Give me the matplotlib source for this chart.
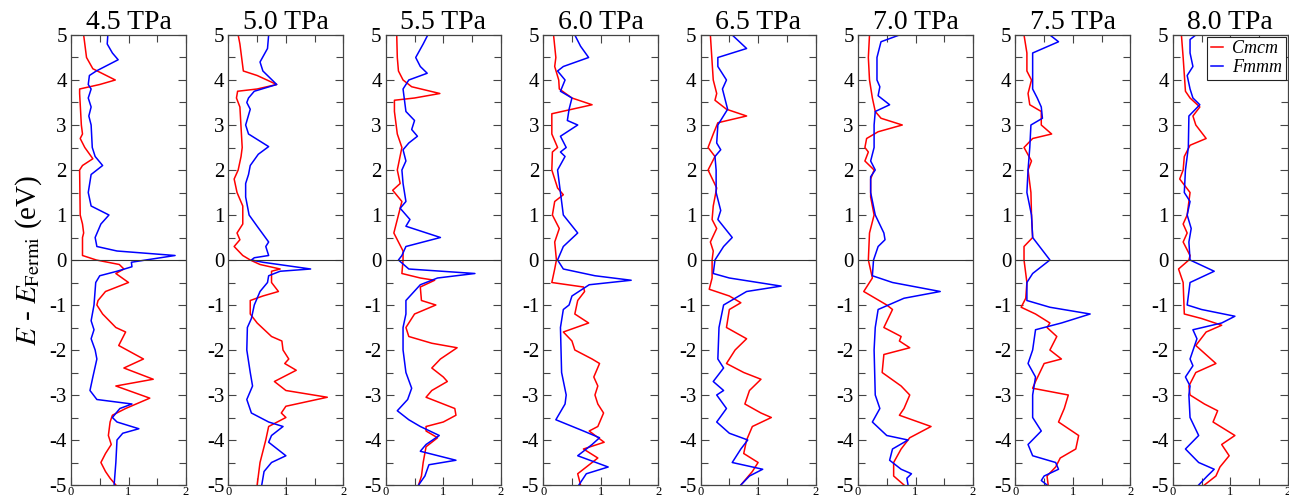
import matplotlib
matplotlib.use("Agg")
import matplotlib.pyplot as plt
from matplotlib.ticker import MultipleLocator, FormatStrFormatter

plt.rcParams['font.family'] = ['Liberation Serif', 'DejaVu Serif']
plt.rcParams['mathtext.fontset'] = 'stix'
plt.rcParams['axes.unicode_minus'] = False

pressures = ["4.5 TPa", "5.0 TPa", "5.5 TPa", "6.0 TPa", "6.5 TPa", "7.0 TPa", "7.5 TPa", "8.0 TPa"]
phases = ["Cmcm", "Fmmm"]

# DOS: energies (eV) and DOS values, per pressure
cmcm_45_e = [5, 4.5, 4.25, 4.0, 3.9, 3.8, 3.7, 3.0, 2.8, 2.7, 2.5, 2.25, 2.1, 2.0, 1.0, 0.8, 0.6, 0.5, 0.1, 0.0, -0.1, -0.2, -0.3, -0.5, -0.7, -0.9, -1.0, -1.2, -1.5, -1.6, -1.9, -2.2, -2.4, -2.65, -2.8, -3.07, -3.3, -3.45, -3.6, -3.9, -4.1, -4.3, -4.5, -4.7, -4.85, -5]
cmcm_45_d = [0.22, 0.27, 0.38, 0.77, 0.5, 0.15, 0.15, 0.18, 0.2, 0.16, 0.24, 0.38, 0.2, 0.15, 0.16, 0.2, 0.22, 0.2, 0.2, 0.44, 0.84, 0.92, 0.78, 1.0, 0.6, 0.47, 0.45, 0.55, 0.78, 0.95, 0.83, 1.26, 0.92, 1.43, 0.78, 1.37, 0.95, 0.72, 0.68, 0.65, 0.7, 0.6, 0.52, 0.6, 0.68, 0.78]
fmmm_45_e = [5, 4.8, 4.6, 4.45, 4.2, 4.1, 3.9, 3.8, 3.6, 3.4, 3.2, 3.0, 2.5, 2.3, 2.1, 1.9, 1.5, 1.2, 1.0, 0.8, 0.5, 0.3, 0.2, 0.1, 0.0, -0.05, -0.15, -0.25, -0.35, -0.5, -1.0, -1.35, -1.55, -1.75, -2.0, -2.2, -2.6, -2.9, -3.1, -3.2, -3.3, -3.5, -3.6, -3.75, -3.85, -4.0, -4.5, -5]
fmmm_45_d = [0.64, 0.63, 0.72, 0.82, 0.44, 0.32, 0.3, 0.35, 0.3, 0.35, 0.31, 0.35, 0.37, 0.42, 0.55, 0.35, 0.3, 0.35, 0.66, 0.52, 0.42, 0.45, 0.8, 1.81, 1.3, 1.05, 1.06, 0.8, 0.5, 0.43, 0.4, 0.35, 0.4, 0.35, 0.42, 0.45, 0.38, 0.33, 0.45, 1.06, 0.85, 0.72, 0.8, 1.18, 0.9, 0.8, 0.78, 0.75]

cmcm_50_e = [5, 4.8, 4.2, 4.1, 3.9, 3.8, 3.75, 3.6, 3.4, 2.5, 2.3, 2.0, 1.8, 1.5, 1.2, 0.8, 0.6, 0.45, 0.3, 0.1, 0.0, -0.1, -0.2, -0.25, -0.35, -0.5, -0.7, -0.8, -0.9, -1.2, -1.4, -1.7, -1.8, -2.0, -2.2, -2.3, -2.45, -2.7, -2.9, -3.05, -3.25, -3.4, -3.5, -3.7, -4.0, -4.5, -5]
cmcm_50_d = [0.17, 0.2, 0.26, 0.5, 0.84, 0.5, 0.16, 0.14, 0.2, 0.24, 0.22, 0.17, 0.1, 0.15, 0.25, 0.25, 0.15, 0.2, 0.1, 0.25, 0.38, 0.55, 0.9, 0.75, 0.75, 0.75, 0.87, 0.6, 0.38, 0.38, 0.5, 0.75, 0.93, 0.95, 1.05, 0.98, 1.18, 0.8, 1.0, 1.72, 1.0, 0.92, 1.0, 0.7, 0.65, 0.55, 0.5]
fmmm_50_e = [5, 4.7, 4.4, 4.2, 3.9, 3.75, 3.6, 3.5, 3.35, 3.0, 2.8, 2.6, 2.52, 2.35, 2.1, 1.9, 1.7, 1.4, 1.0, 0.75, 0.4, 0.3, 0.1, 0.05, 0.0, -0.05, -0.2, -0.25, -0.35, -0.5, -0.7, -1.0, -1.3, -1.5, -2.0, -2.5, -2.8, -3.1, -3.4, -3.6, -3.7, -3.9, -4.05, -4.35, -4.5, -4.7, -5]
fmmm_50_d = [0.7, 0.68, 0.55, 0.6, 0.84, 0.45, 0.35, 0.32, 0.38, 0.3, 0.35, 0.6, 0.7, 0.52, 0.38, 0.35, 0.3, 0.3, 0.36, 0.5, 0.7, 0.65, 0.7, 0.45, 0.4, 0.6, 1.43, 0.9, 0.7, 0.68, 0.55, 0.45, 0.4, 0.33, 0.32, 0.38, 0.42, 0.32, 0.4, 0.7, 0.95, 0.75, 0.7, 1.0, 0.75, 0.62, 0.58]

cmcm_55_e = [5, 4.5, 4.2, 4.0, 3.85, 3.7, 3.6, 3.55, 3.3, 2.8, 2.5, 2.0, 1.7, 1.55, 1.3, 0.9, 0.6, 0.4, 0.2, 0.0, -0.3, -0.4, -0.45, -0.6, -0.9, -1.0, -1.2, -1.5, -1.7, -1.85, -1.95, -2.2, -2.4, -2.6, -2.7, -2.9, -3.05, -3.2, -3.3, -3.45, -3.6, -3.7, -3.8, -3.95, -4.15, -4.5, -4.8, -5]
cmcm_55_d = [0.19, 0.2, 0.22, 0.3, 0.45, 0.94, 0.5, 0.15, 0.15, 0.2, 0.28, 0.2, 0.25, 0.12, 0.28, 0.2, 0.14, 0.22, 0.3, 0.3, 0.28, 0.6, 0.85, 0.6, 0.62, 0.87, 0.5, 0.35, 0.4, 0.8, 1.24, 0.95, 0.8, 1.0, 1.07, 0.8, 0.7, 1.0, 1.2, 1.22, 1.0, 0.7, 0.7, 0.9, 0.7, 0.65, 0.62, 0.57]
fmmm_55_e = [5, 4.8, 4.5, 4.3, 4.15, 4.0, 3.8, 3.6, 3.3, 3.1, 2.9, 2.75, 2.6, 2.45, 2.2, 2.0, 1.7, 1.3, 1.15, 0.9, 0.75, 0.5, 0.3, 0.1, 0.0, -0.2, -0.3, -0.4, -0.55, -0.9, -1.2, -1.5, -2.0, -2.5, -2.85, -3.1, -3.35, -3.55, -3.7, -3.9, -4.1, -4.25, -4.45, -4.55, -4.8, -5]
fmmm_55_d = [0.73, 0.65, 0.52, 0.6, 0.72, 0.4, 0.3, 0.32, 0.35, 0.5, 0.45, 0.55, 0.4, 0.3, 0.35, 0.28, 0.3, 0.35, 0.25, 0.42, 0.35, 0.95, 0.35, 0.28, 0.22, 0.4, 1.55, 0.9, 0.6, 0.35, 0.35, 0.3, 0.3, 0.35, 0.45, 0.38, 0.2, 0.4, 0.6, 0.93, 0.7, 0.6, 1.22, 0.75, 0.68, 0.57]

cmcm_60_e = [5, 4.5, 4.3, 4.0, 3.8, 3.6, 3.45, 3.35, 3.25, 2.8, 2.5, 2.4, 2.0, 1.6, 1.45, 1.3, 1.0, 0.7, 0.4, 0.0, -0.2, -0.5, -0.6, -0.7, -0.9, -1.2, -1.4, -1.6, -1.8, -2.0, -2.2, -2.3, -2.6, -2.8, -3.0, -3.2, -3.4, -3.7, -3.8, -4.05, -4.2, -4.4, -4.6, -4.75, -5]
cmcm_60_d = [0.18, 0.22, 0.2, 0.27, 0.28, 0.5, 0.85, 0.5, 0.15, 0.15, 0.25, 0.16, 0.15, 0.25, 0.35, 0.2, 0.16, 0.28, 0.2, 0.23, 0.2, 0.15, 0.7, 0.72, 0.6, 0.55, 0.79, 0.35, 0.5, 0.55, 0.85, 0.98, 0.88, 0.95, 0.9, 0.95, 1.05, 0.95, 0.8, 1.06, 0.7, 0.95, 0.75, 0.6, 0.65]
fmmm_60_e = [5, 4.75, 4.5, 4.3, 4.2, 4.0, 3.75, 3.6, 3.35, 3.1, 3.0, 2.75, 2.5, 2.4, 2.3, 2.0, 1.5, 1.0, 0.6, 0.3, 0.0, -0.2, -0.35, -0.45, -0.55, -0.8, -1.0, -1.1, -1.5, -2.5, -3.0, -3.2, -3.55, -3.8, -3.95, -4.1, -4.35, -4.6, -4.75, -5]
fmmm_60_d = [0.55, 0.65, 0.79, 0.35, 0.25, 0.38, 0.3, 0.5, 0.45, 0.42, 0.6, 0.3, 0.4, 0.3, 0.38, 0.25, 0.3, 0.35, 0.6, 0.35, 0.25, 0.35, 0.9, 1.53, 0.8, 0.5, 0.45, 0.35, 0.3, 0.32, 0.4, 0.38, 0.22, 0.7, 0.98, 0.85, 0.6, 1.13, 0.75, 0.62]

cmcm_65_e = [5, 4.0, 3.7, 3.55, 3.35, 3.2, 3.05, 2.8, 2.5, 2.3, 2.0, 1.6, 1.2, 0.9, 0.7, 0.4, 0.2, 0.0, -0.4, -0.65, -0.8, -0.95, -1.1, -1.5, -1.75, -2.0, -2.3, -2.5, -2.65, -2.9, -3.2, -3.4, -3.5, -3.7, -4.0, -4.3, -4.5, -4.7, -5]
cmcm_65_d = [0.17, 0.22, 0.28, 0.25, 0.45, 0.8, 0.3, 0.22, 0.13, 0.25, 0.13, 0.28, 0.22, 0.2, 0.28, 0.17, 0.22, 0.2, 0.2, 0.15, 0.5, 0.7, 0.5, 0.45, 0.8, 0.6, 0.45, 0.75, 1.05, 0.85, 0.77, 1.05, 1.23, 0.9, 0.8, 0.75, 1.0, 0.9, 0.7]
fmmm_65_e = [5, 4.7, 4.5, 4.3, 4.0, 3.8, 3.35, 3.0, 2.6, 2.45, 2.3, 2.0, 1.5, 1.1, 0.9, 0.5, 0.3, 0.0, -0.3, -0.4, -0.58, -0.7, -1.0, -1.5, -2.2, -2.4, -2.7, -2.9, -3.0, -3.3, -3.6, -3.85, -4.0, -4.2, -4.5, -4.65, -4.8, -5]
fmmm_65_d = [0.55, 0.8, 0.3, 0.3, 0.45, 0.38, 0.47, 0.3, 0.28, 0.35, 0.25, 0.27, 0.27, 0.35, 0.3, 0.55, 0.4, 0.25, 0.22, 0.5, 1.4, 0.8, 0.4, 0.32, 0.3, 0.4, 0.22, 0.4, 0.28, 0.45, 0.28, 0.5, 0.82, 0.7, 0.55, 1.08, 0.85, 0.7]

cmcm_70_e = [5, 4.5, 4.0, 3.6, 3.3, 3.15, 3.0, 2.85, 2.7, 2.5, 2.4, 2.2, 2.0, 1.8, 1.4, 1.0, 0.6, 0.0, -0.4, -0.7, -1.0, -1.1, -1.5, -1.7, -1.8, -1.95, -2.1, -2.5, -2.8, -3.0, -3.3, -3.45, -3.7, -3.95, -4.2, -4.5, -4.8, -5]
cmcm_70_d = [0.2, 0.18, 0.2, 0.25, 0.3, 0.4, 0.77, 0.35, 0.15, 0.12, 0.18, 0.12, 0.28, 0.22, 0.22, 0.28, 0.2, 0.18, 0.25, 0.1, 0.5, 0.6, 0.45, 0.75, 0.72, 0.9, 0.45, 0.42, 0.75, 0.9, 0.8, 0.72, 1.27, 0.9, 0.75, 0.62, 0.62, 0.8]
fmmm_70_e = [5, 4.85, 4.5, 4.0, 3.85, 3.65, 3.45, 3.3, 3.0, 2.5, 2.2, 2.0, 1.85, 1.5, 1.0, 0.6, 0.45, 0.3, 0.0, -0.35, -0.5, -0.7, -0.85, -1.1, -1.5, -2.0, -3.0, -3.3, -3.6, -3.9, -4.0, -4.2, -4.45, -4.65, -4.75, -4.85, -5]
fmmm_70_d = [0.72, 0.4, 0.33, 0.33, 0.38, 0.35, 0.55, 0.3, 0.28, 0.28, 0.22, 0.3, 0.22, 0.22, 0.3, 0.45, 0.47, 0.35, 0.27, 0.25, 0.6, 1.43, 0.8, 0.35, 0.3, 0.28, 0.3, 0.38, 0.25, 0.5, 0.87, 0.6, 0.55, 0.75, 0.93, 0.85, 0.87]

cmcm_75_e = [5, 4.6, 4.2, 4.0, 3.7, 3.45, 3.3, 3.0, 2.8, 2.7, 2.5, 2.2, 2.0, 1.5, 1.0, 0.5, 0.3, 0.0, -0.5, -0.85, -1.05, -1.2, -1.4, -1.5, -1.7, -2.0, -2.2, -2.3, -2.7, -2.85, -3.0, -3.3, -3.6, -3.9, -4.2, -4.4, -4.6, -4.8, -5]
cmcm_75_d = [0.15, 0.2, 0.2, 0.28, 0.22, 0.25, 0.45, 0.45, 0.63, 0.3, 0.15, 0.28, 0.22, 0.27, 0.28, 0.3, 0.15, 0.15, 0.2, 0.18, 0.1, 0.35, 0.6, 0.55, 0.72, 0.6, 0.8, 0.5, 0.35, 0.3, 0.92, 0.85, 0.75, 1.1, 1.05, 0.78, 0.7, 0.55, 0.57]
fmmm_75_e = [5, 4.85, 4.6, 4.3, 3.8, 3.6, 3.4, 3.15, 3.0, 2.5, 2.0, 1.5, 1.0, 0.5, 0.0, -0.3, -0.5, -0.9, -1.05, -1.2, -1.4, -1.55, -2.0, -2.3, -2.6, -3.0, -3.5, -3.8, -4.1, -4.35, -4.5, -4.65, -4.8, -4.9, -5]
fmmm_75_d = [0.6, 0.75, 0.3, 0.3, 0.3, 0.38, 0.45, 0.47, 0.27, 0.25, 0.22, 0.2, 0.28, 0.3, 0.6, 0.3, 0.2, 0.2, 0.6, 1.3, 0.8, 0.35, 0.3, 0.22, 0.35, 0.3, 0.3, 0.45, 0.22, 0.3, 0.7, 0.75, 0.5, 0.45, 0.55]

cmcm_80_e = [5, 4.5, 3.75, 3.6, 3.4, 3.2, 3.0, 2.7, 2.55, 2.3, 2.0, 1.8, 1.5, 1.0, 0.8, 0.6, 0.4, 0.1, 0.0, -0.2, -0.5, -1.2, -1.3, -1.45, -1.6, -1.9, -2.3, -2.5, -2.8, -3.0, -3.2, -3.35, -3.6, -3.9, -4.1, -4.35, -4.6, -4.8, -5]
cmcm_80_d = [0.15, 0.18, 0.22, 0.3, 0.47, 0.35, 0.4, 0.58, 0.3, 0.2, 0.18, 0.12, 0.3, 0.25, 0.18, 0.25, 0.18, 0.3, 0.28, 0.1, 0.18, 0.2, 0.5, 0.85, 0.58, 0.4, 0.75, 0.4, 0.28, 0.3, 0.55, 0.78, 0.7, 1.08, 0.85, 0.98, 0.82, 0.75, 0.55]
fmmm_80_e = [5, 4.9, 4.6, 4.3, 4.1, 3.8, 3.6, 3.45, 3.2, 2.5, 2.0, 1.5, 1.3, 1.0, 0.7, 0.4, 0.0, -0.25, -0.5, -1.0, -1.1, -1.25, -1.4, -1.55, -1.75, -1.9, -2.2, -2.35, -2.6, -2.8, -3.0, -3.5, -3.9, -4.2, -4.5, -4.65, -4.8, -5]
fmmm_80_d = [0.4, 0.3, 0.3, 0.35, 0.25, 0.3, 0.35, 0.47, 0.28, 0.27, 0.22, 0.2, 0.3, 0.25, 0.32, 0.28, 0.3, 0.72, 0.3, 0.25, 0.5, 1.08, 0.85, 0.35, 0.42, 0.38, 0.3, 0.35, 0.22, 0.3, 0.28, 0.3, 0.45, 0.22, 0.45, 0.72, 0.6, 0.45]

cmcm = [(cmcm_45_e, cmcm_45_d), (cmcm_50_e, cmcm_50_d), (cmcm_55_e, cmcm_55_d), (cmcm_60_e, cmcm_60_d),
        (cmcm_65_e, cmcm_65_d), (cmcm_70_e, cmcm_70_d), (cmcm_75_e, cmcm_75_d), (cmcm_80_e, cmcm_80_d)]
fmmm = [(fmmm_45_e, fmmm_45_d), (fmmm_50_e, fmmm_50_d), (fmmm_55_e, fmmm_55_d), (fmmm_60_e, fmmm_60_d),
        (fmmm_65_e, fmmm_65_d), (fmmm_70_e, fmmm_70_d), (fmmm_75_e, fmmm_75_d), (fmmm_80_e, fmmm_80_d)]

W, H = 1289, 498
fig = plt.figure(figsize=(W / 100, H / 100), dpi=100)
frame = '#444444'

for i, label in enumerate(pressures):
    left = 71 + i * 157.4
    ax = fig.add_axes([left / W, 13 / H, 115 / W, 450 / H])
    (ce, cd), (fe, fd) = cmcm[i], fmmm[i]
    ax.plot(cd, ce, color='red', lw=1.1, label=phases[0])
    ax.plot(fd, fe, color='blue', lw=1.1, label=phases[1])
    ax.axhline(0, color='#333333', lw=0.8)
    ax.set_xlim(0, 2)
    ax.set_ylim(-5, 5)
    ax.yaxis.set_major_locator(MultipleLocator(1))
    ax.yaxis.set_minor_locator(MultipleLocator(0.5))
    ax.yaxis.set_major_formatter(FormatStrFormatter('%d'))
    ax.xaxis.set_major_locator(MultipleLocator(1))
    ax.xaxis.set_minor_locator(MultipleLocator(0.5))
    ax.xaxis.set_major_formatter(FormatStrFormatter('%d'))
    ax.tick_params(which='both', direction='in', left=True, right=True, top=True, bottom=True,
                   color=frame, width=0.8)
    ax.tick_params(which='major', length=6)
    ax.tick_params(which='minor', length=5)
    ax.tick_params(axis='y', labelsize=15, pad=3)
    ax.tick_params(axis='x', labelsize=9, pad=1)
    for s in ax.spines.values():
        s.set_color(frame)
        s.set_linewidth(0.9)
    ax.set_title(label, fontsize=20, pad=2)
    if i == 0:
        ax.set_ylabel(r'$E$ - $E_{\mathrm{Fermi}}$ (eV)', fontsize=21, labelpad=4)
    if i == len(pressures) - 1:
        leg = ax.legend(loc='upper right', handlelength=0.7, handletextpad=0.5,
                        borderpad=0.2, labelspacing=0.1, borderaxespad=0.1, fancybox=False,
                        framealpha=1, prop={'style': 'italic', 'size': 13})
        leg.get_frame().set_edgecolor('#222222')
        leg.get_frame().set_linewidth(0.8)

fig.savefig("out.png", dpi=100)
